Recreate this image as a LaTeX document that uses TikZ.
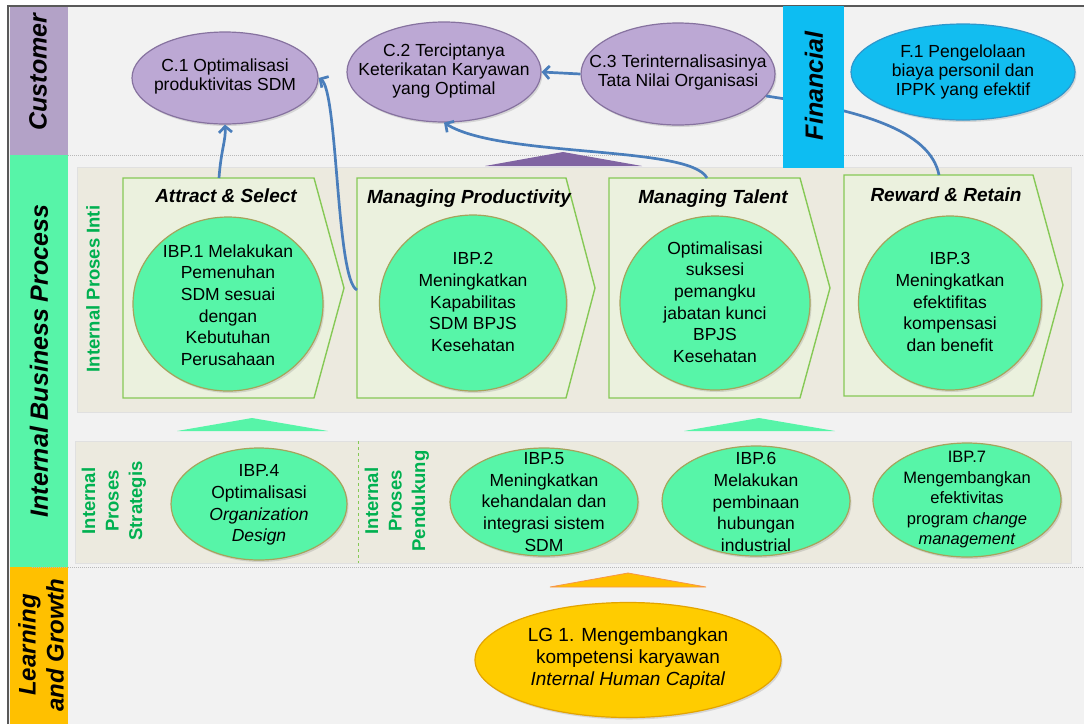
\documentclass[tikz,border=0pt]{standalone}
\usepackage{fontspec}
\setmainfont{Liberation Sans}
\usetikzlibrary{arrows.meta,shapes.geometric,shadows}
\definecolor{bgc}{HTML}{F2F2F2}
\definecolor{custc}{HTML}{B3A2C7}
\definecolor{ibpc}{HTML}{57F4A8}
\definecolor{lgc}{HTML}{FFC000}
\definecolor{finc}{HTML}{0DBDF2}
\definecolor{panelc}{HTML}{ECEADF}
\definecolor{chevfill}{HTML}{EBF1DE}
\definecolor{chevdraw}{HTML}{86C956}
\definecolor{greentext}{HTML}{00B050}
\definecolor{connc}{HTML}{4A7EBB}
\definecolor{cellfill}{HTML}{BCA8D4}
\definecolor{celldraw}{HTML}{86729F}
\definecolor{gellfill}{HTML}{57F5A8}
\definecolor{gelldraw}{HTML}{A6A35C}
\definecolor{fellfill}{HTML}{12BDF0}
\definecolor{felldraw}{HTML}{2E97CC}
\definecolor{lgfill}{HTML}{FFCC00}
\definecolor{lgdraw}{HTML}{E3A400}
\definecolor{purptri}{HTML}{8064A2}
\definecolor{orangeedge}{HTML}{F79646}
\definecolor{dashc}{HTML}{B8B8B8}
\begin{document}
\begin{tikzpicture}[x=1pt,y=-1pt,
  ell/.style={ellipse, inner sep=0pt, line width=1.2pt,
    drop shadow={shadow xshift=1.5pt, shadow yshift=-2pt, opacity=0.25}},
  cell/.style={ell, fill=cellfill, draw=celldraw},
  gell/.style={ell, fill=gellfill, draw=gelldraw},
  fell/.style={ell, fill=fellfill, draw=felldraw},
  lgell/.style={ell, fill=lgfill, draw=lgdraw},
  ctxt/.style={align=center, font=\fontsize{17.5}{19}\selectfont},
  btxt/.style={align=center, font=\fontsize{17.5}{21.7}\selectfont},
  stxt/.style={align=center, font=\fontsize{16.5}{20.5}\selectfont},
  ltxt/.style={align=center, font=\fontsize{19}{22}\selectfont},
  bandlbl/.style={rotate=90, align=center, font=\bfseries\itshape\fontsize{25}{27}\selectfont},
  sidelbl/.style={rotate=90, align=center, text=greentext, font=\bfseries\fontsize{18.5}{23.5}\selectfont},
  title/.style={anchor=base, font=\bfseries\itshape\fontsize{19}{22}\selectfont},
  chev/.style={fill=chevfill, draw=chevdraw, line width=1.4pt},
  conn/.style={draw=connc, line width=2.7pt},
  arr/.style={conn, -{Straight Barb[length=6pt,width=13pt]}}
]
\useasboundingbox (0,0) rectangle (1084,724);
% background
\fill[bgc] (8,6) rectangle (1084,724);
\draw[line width=1.3pt, black!65] (8,724) -- (8,6) -- (1084,6);
% bands
\fill[custc] (10,7) rectangle (68,155);
\fill[ibpc] (10,155) rectangle (68,567);
\fill[lgc] (10,567) rectangle (68,724);
\node[bandlbl] (custlbl) at (38,72) {Customer};
\node[bandlbl] (ibplbl) at (39,361) {Internal Business Process};
\node[bandlbl, font=\bfseries\itshape\fontsize{24}{28}\selectfont] (lglbl) at (41,645) {Learning\\and Growth};
% separators
\draw[dashc, line width=1pt, dash pattern=on 1pt off 1pt] (68,155) -- (1084,155);
\draw[dashc, line width=1pt, dash pattern=on 1pt off 1pt] (32,567) -- (1084,567);
% panels
\filldraw[fill=panelc, draw=black!12, line width=0.8pt] (77,167) rectangle (1071,412);
\filldraw[fill=panelc, draw=black!12, line width=0.8pt] (75,441) rectangle (1071,563);
\draw[chevdraw, line width=1pt, dashed] (358,441) -- (358,563);
\node[sidelbl] (inti) at (93,289) {Internal Proses Inti};
\node[sidelbl] (strat) at (114,501) {Internal\\Proses\\Strategis};
\node[sidelbl] (pend) at (397,501) {Internal\\Proses\\Pendukung};
% chevrons
\draw[chev] (123,178) -- (314,178) -- (344,288) -- (314,398) -- (123,398) -- cycle;
\draw[chev] (357,178) -- (566,178) -- (595,288) -- (566,398) -- (357,398) -- cycle;
\draw[chev] (609,178) -- (800,178) -- (830,288) -- (800,398) -- (609,398) -- cycle;
\draw[chev] (844,175) -- (1033,175) -- (1063,285) -- (1033,396) -- (844,396) -- cycle;
\coordinate (b1top) at (219,178);
\coordinate (b2left) at (357,290);
\coordinate (b3top) at (707,178);
\coordinate (b4top) at (939,175);
\node[title] (t1) at (226,202) {Attract \& Select};
\node[title] (t2) at (469,203) {Managing Productivity};
\node[title] (t3) at (713,203) {Managing Talent};
\node[title] (t4) at (946,201) {Reward \& Retain};
% triangles
\fill[ibpc] (177,431) -- (252,418) -- (328,431) -- cycle;
\fill[ibpc] (684,431) -- (759,418) -- (835,431) -- cycle;
\fill[purptri] (485,166) -- (563,152) -- (642,166) -- cycle;
\filldraw[fill=lgc, draw=orangeedge, line width=0.8pt] (550,587) -- (628,573) -- (706,587) -- cycle;
% customer ellipses
\node[cell, minimum width=186pt, minimum height=92pt] (C1) at (225,78) {};
\node[cell, minimum width=194pt, minimum height=100pt] (C2) at (444,72) {};
\node[cell, minimum width=194pt, minimum height=102pt] (C3) at (678,74) {};
\node[ctxt] (C1t) at (225,76) {C.1 Optimalisasi\\produktivitas SDM};
\node[ctxt] (C2t) at (444,71) {C.2 Terciptanya\\Keterikatan Karyawan\\yang Optimal};
\node[ctxt] (C3t) at (678,72) {C.3 Terinternalisasinya\\Tata Nilai Organisasi};
% connectors
\draw[arr] (b1top) .. controls (221,150) and (226,140) .. (C1.south);
\draw[arr] (b2left) .. controls (336,280) and (338,90) .. (C1.east);
\draw[arr] (b3top) .. controls (690,145) and (500,158) .. (C2.south);
\draw[arr] (C3.west) -- (C2.east);
\draw[conn] (b4top) .. controls (930,130) and (860,110) .. (C3.-14);
% financial
\fill[finc] (783,6) rectangle (844,168);
\node[bandlbl] (finlbl) at (814,86) {Financial};
\node[fell, minimum width=224pt, minimum height=96pt] (F1) at (963,72) {};
\node[ctxt] (F1t) at (963,72) {F.1 Pengelolaan\\biaya personil dan\\IPPK yang efektif};
% core process circles
\node[gell, minimum width=190pt, minimum height=174pt] (E1) at (228,304) {};
\node[gell, minimum width=187pt, minimum height=176pt] (E2) at (473,303) {};
\node[gell, minimum width=190pt, minimum height=174pt] (E3) at (715,303) {};
\node[gell, minimum width=183pt, minimum height=174pt] (E4) at (950,303) {};
\node[btxt] (E1t) at (228,305) {IBP.1 Melakukan\\Pemenuhan\\SDM sesuai\\dengan\\Kebutuhan\\Perusahaan};
\node[btxt] (E2t) at (473,302) {IBP.2\\Meningkatkan\\Kapabilitas\\SDM BPJS\\Kesehatan};
\node[btxt] (E3t) at (715,302) {Optimalisasi\\suksesi\\pemangku\\jabatan kunci\\BPJS\\Kesehatan};
\node[btxt] (E4t) at (950,302) {IBP.3\\Meningkatkan\\efektifitas\\kompensasi\\dan benefit};
% support ellipses
\node[gell, minimum width=176pt, minimum height=112pt] (E5) at (259,504) {};
\node[gell, minimum width=188pt, minimum height=108pt] (E6) at (544,502) {};
\node[gell, minimum width=188pt, minimum height=110pt] (E7) at (756,501) {};
\node[gell, minimum width=188pt, minimum height=114pt] (E8) at (967,500) {};
\node[btxt] (E5t) at (259,505) {IBP.4\\Optimalisasi\\\textit{Organization}\\\textit{Design}};
\node[btxt] (E6t) at (544,502) {IBP.5\\Meningkatkan\\kehandalan dan\\integrasi sistem\\SDM};
\node[btxt] (E7t) at (756,502) {IBP.6\\Melakukan\\pembinaan\\hubungan\\industrial};
\node[stxt] (E8t) at (967,500) {IBP.7\\Mengembangkan\\efektivitas\\program \textit{change}\\\textit{management}};
% learning and growth
\node[lgell, minimum width=306pt, minimum height=115pt] (LG) at (628,660) {};
\node[ltxt] (LGt) at (628,659) {LG 1. Mengembangkan\\kompetensi karyawan\\\textit{Internal Human Capital}};
\end{tikzpicture}
\end{document}
